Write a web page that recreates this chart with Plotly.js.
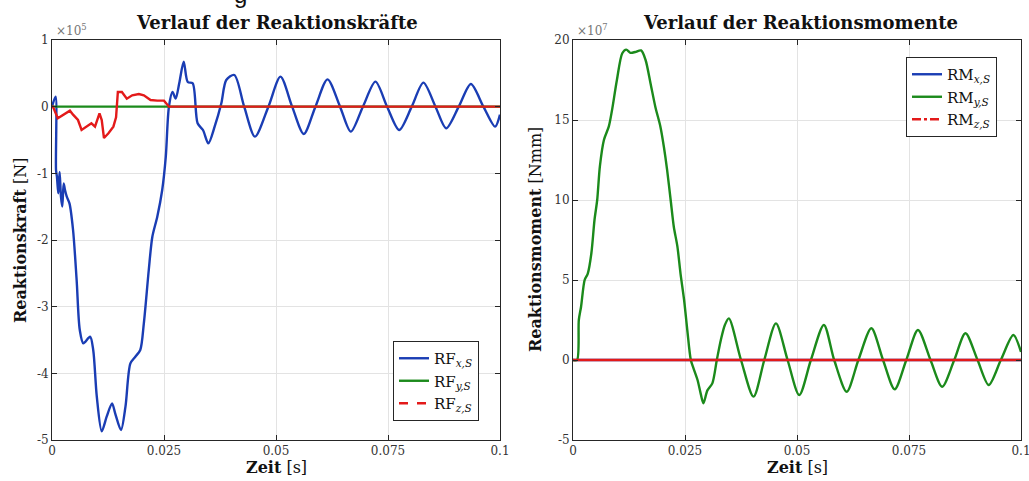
<!DOCTYPE html>
<html>
<head>
<meta charset="utf-8">
<script src="https://cdn.plot.ly/plotly-3.0.1.min.js"></script>
<style>html,body{margin:0;padding:0;background:#fff;}#chart{width:1029px;height:481px;}</style>
</head>
<body>
<div id="chart"></div>
<script>
// ---- Data (forces in 1e5 N, moments in 1e7 Nmm) ----
const rfxT = [0, 0.0008, 0.0009, 0.0011, 0.0014, 0.0017, 0.0020, 0.0023, 0.0026, 0.0029, 0.0033, 0.0039, 0.0047, 0.0055, 0.0062, 0.0070, 0.0085, 0.0092, 0.0100, 0.0111, 0.0122, 0.0134, 0.0141, 0.0154, 0.0164, 0.0175, 0.0186, 0.0197, 0.0205, 0.0216, 0.0224, 0.0235, 0.0246, 0.0254, 0.0261, 0.0269, 0.0276, 0.0284, 0.0294, 0.0303, 0.0314, 0.0325, 0.0337, 0.0349, 0.0363, 0.0378, 0.0389, 0.0407, 0.0429, 0.0453, 0.0483, 0.0510, 0.0536, 0.0562, 0.0588, 0.0615, 0.0643, 0.0667, 0.0694, 0.0722, 0.0748, 0.0775, 0.0803, 0.0829, 0.0856, 0.0880, 0.0908, 0.0935, 0.0963, 0.0989, 0.1];
const rfxV = [0, 0.15, -0.95, -1.05, -1.3, -0.98, -1.35, -1.5, -1.15, -1.25, -1.35, -1.45, -1.85, -2.6, -3.35, -3.55, -3.45, -3.65, -4.35, -4.87, -4.65, -4.45, -4.6, -4.85, -4.5, -3.85, -3.75, -3.65, -3.25, -2.45, -1.95, -1.65, -1.25, -0.75, 0, 0.22, 0.12, 0.35, 0.675, 0.37, 0.35, -0.25, -0.35, -0.55, -0.3, 0.05, 0.4, 0.475, 0, -0.45, 0, 0.45, 0, -0.41, 0, 0.41, 0, -0.375, 0, 0.375, 0, -0.35, 0, 0.36, 0, -0.325, 0, 0.34, 0, -0.3, -0.12];

const rfyT = [0, 0.1];
const rfyV = [0, 0];

const rfzT = [0, 0.0002, 0.0013, 0.0021, 0.0028, 0.0040, 0.0047, 0.0058, 0.0066, 0.0077, 0.0088, 0.0096, 0.0106, 0.0111, 0.0116, 0.0126, 0.0137, 0.0143, 0.0147, 0.0156, 0.0167, 0.0179, 0.0194, 0.0205, 0.0220, 0.0235, 0.0250, 0.0261, 0.1];
const rfzV = [0, 0, -0.175, -0.14, -0.1, -0.06, -0.12, -0.2, -0.35, -0.3, -0.25, -0.3, -0.1, -0.2, -0.47, -0.4, -0.3, -0.16, 0.22, 0.22, 0.12, 0.17, 0.19, 0.17, 0.1, 0.09, 0.09, 0, 0];

const rmxT = [0, 0.1];
const rmxV = [0, 0];

const rmyT = [0, 0.0009, 0.0013, 0.0018, 0.0026, 0.0033, 0.0041, 0.0048, 0.0054, 0.0060, 0.0069, 0.0080, 0.0087, 0.0098, 0.0110, 0.0119, 0.0128, 0.0139, 0.0152, 0.0162, 0.0173, 0.0184, 0.0195, 0.0203, 0.0210, 0.0218, 0.0225, 0.0233, 0.0240, 0.0248, 0.0255, 0.0263, 0.0269, 0.0278, 0.0285, 0.0291, 0.0300, 0.0311, 0.0321, 0.0330, 0.0339, 0.0348, 0.0375, 0.0403, 0.0427, 0.0453, 0.0479, 0.0505, 0.0531, 0.0560, 0.0583, 0.0611, 0.0637, 0.0666, 0.0692, 0.0718, 0.0744, 0.0770, 0.0798, 0.0824, 0.0851, 0.0876, 0.0903, 0.0928, 0.0955, 0.0983, 0.1];
const rmyV = [0, 0, 2.5, 3.33, 5.0, 5.4, 6.67, 8.75, 10, 12.1, 13.75, 14.6, 15.6, 17.5, 19.17, 19.4, 19.2, 19.25, 19.35, 18.75, 17.3, 15.8, 14.6, 13.3, 11.9, 10, 8.33, 7.1, 5.4, 3.75, 1.9, 0, -0.52, -1.25, -2.1, -2.7, -1.9, -1.46, 0, 1.25, 2.19, 2.6, 0, -2.29, 0, 2.29, 0, -2.19, 0, 2.19, 0, -1.98, 0, 1.98, 0, -1.83, 0, 1.875, 0, -1.67, 0, 1.67, 0, -1.56, 0, 1.56, 0.5];

const rmzT = [0, 0.1];
const rmzV = [0, 0];

const xTicks = [0, 0.025, 0.05, 0.075, 0.1];
const xTickText = ['0', '0.025', '0.05', '0.075', '0.1'];
const yTicksF = [1, 0, -1, -2, -3, -4, -5];
const yTickTextF = ['1', '0', '-1', '-2', '-3', '-4', '-5'];
const yTicksM = [20, 15, 10, 5, 0, -5];
const yTickTextM = ['20', '15', '10', '5', '0', '-5'];

// ---- Styles ----
const BLUE = '#1a3db4', GREEN = '#1b8a1b', RED = '#e31a1a';
const LW = 2.4;
const SERIF = 'DejaVu Serif, serif';

const traces = [
  {x: rfxT, y: rfxV, xaxis: 'x', yaxis: 'y', mode: 'lines', name: 'RF<sub><i>x,S</i></sub>', line: {color: BLUE, width: LW, shape: 'spline', smoothing: 0.8}, legend: 'legend'},
  {x: rfyT, y: rfyV, xaxis: 'x', yaxis: 'y', mode: 'lines', name: 'RF<sub><i>y,S</i></sub>', line: {color: GREEN, width: LW}, legend: 'legend'},
  {x: rfzT, y: rfzV, xaxis: 'x', yaxis: 'y', mode: 'lines', name: 'RF<sub><i>z,S</i></sub>', line: {color: RED, width: LW}, showlegend: false},
  {x: [null], y: [null], xaxis: 'x', yaxis: 'y', mode: 'lines', name: 'RF<sub><i>z,S</i></sub>', line: {color: RED, width: LW, dash: 'dash'}, legend: 'legend'},
  {x: rmxT, y: rmxV, xaxis: 'x2', yaxis: 'y2', mode: 'lines', name: 'RM<sub><i>x,S</i></sub>', line: {color: BLUE, width: LW}, legend: 'legend2'},
  {x: rmyT, y: rmyV, xaxis: 'x2', yaxis: 'y2', mode: 'lines', name: 'RM<sub><i>y,S</i></sub>', line: {color: GREEN, width: LW, shape: 'spline', smoothing: 0.8}, legend: 'legend2'},
  {x: rmzT, y: rmzV, xaxis: 'x2', yaxis: 'y2', mode: 'lines', name: 'RM<sub><i>z,S</i></sub>', line: {color: RED, width: LW}, showlegend: false},
  {x: [null], y: [null], xaxis: 'x2', yaxis: 'y2', mode: 'lines', name: 'RM<sub><i>z,S</i></sub>', line: {color: RED, width: LW, dash: 'dashdot'}, legend: 'legend2'}
];

const W = 1029, H = 481;
const px = v => v / W, py = v => (H - v) / H;

const axisCommon = {
  showline: true, mirror: 'ticks', linecolor: '#262626', linewidth: 1,
  ticks: 'inside', ticklen: 5, tickcolor: '#262626',
  showgrid: true, gridcolor: '#e3e3e3', gridwidth: 1, zeroline: false,
  tickfont: {family: SERIF, size: 12, color: '#333333'}, fixedrange: true,
  ticklabeloverflow: 'allow'
};

const legendCommon = {
  bgcolor: '#ffffff', bordercolor: '#262626', borderwidth: 1,
  font: {family: SERIF, size: 15, color: '#111111'},
  xanchor: 'left', yanchor: 'top', itemwidth: 30, tracegroupgap: 0
};

const ann = (x, y, text, opts) => Object.assign({xref: 'paper', yref: 'paper', x: px(x), y: py(y), text: text, showarrow: false, xanchor: 'center', yanchor: 'middle', font: {family: SERIF, size: 16, color: '#111111'}}, opts || {});

const layout = {
  width: W, height: H,
  margin: {l: 0, r: 0, t: 0, b: 0},
  paper_bgcolor: '#ffffff', plot_bgcolor: '#ffffff',
  showlegend: true,
  xaxis: Object.assign({}, axisCommon, {domain: [px(52), px(500)], range: [0, 0.1], tickvals: xTicks, ticktext: xTickText, anchor: 'y'}),
  yaxis: Object.assign({}, axisCommon, {domain: [py(440), py(40)], range: [-5, 1], tickvals: yTicksF, ticktext: yTickTextF, anchor: 'x'}),
  xaxis2: Object.assign({}, axisCommon, {domain: [px(573), px(1021)], range: [0, 0.1], tickvals: xTicks, ticktext: xTickText, anchor: 'y2'}),
  yaxis2: Object.assign({}, axisCommon, {domain: [py(440), py(40)], range: [-5, 20], tickvals: yTicksM, ticktext: yTickTextM, anchor: 'x2'}),
  legend: Object.assign({}, legendCommon, {x: px(393), y: py(341)}),
  legend2: Object.assign({}, legendCommon, {x: px(906), y: py(57)}),
  annotations: [
    ann(277, 22, '<b>Verlauf der Reaktionskräfte</b>', {font: {family: SERIF, size: 18, color: '#111111'}}),
    ann(800, 22, '<b>Verlauf der Reaktionsmomente</b>', {font: {family: SERIF, size: 18, color: '#111111'}}),
    ann(276, 467, '<b>Zeit</b> [s]'),
    ann(797, 467, '<b>Zeit</b> [s]'),
    ann(20, 241, '<b>Reaktionskraft</b> [N]', {textangle: -90}),
    ann(535, 240, '<b>Reaktionsmoment</b> [Nmm]', {textangle: -90}),
    ann(54, 30, '×10<sup>5</sup>', {xanchor: 'left', font: {family: SERIF, size: 12, color: '#777777'}}),
    ann(575, 30, '×10<sup>7</sup>', {xanchor: 'left', font: {family: SERIF, size: 12, color: '#777777'}}),
    ann(240, -6, 'g', {font: {family: 'Liberation Sans, Arial, sans-serif', size: 24, color: '#111111'}})
  ]
};

Plotly.newPlot('chart', traces, layout, {displayModeBar: false, staticPlot: true});
</script>
</body>
</html>
